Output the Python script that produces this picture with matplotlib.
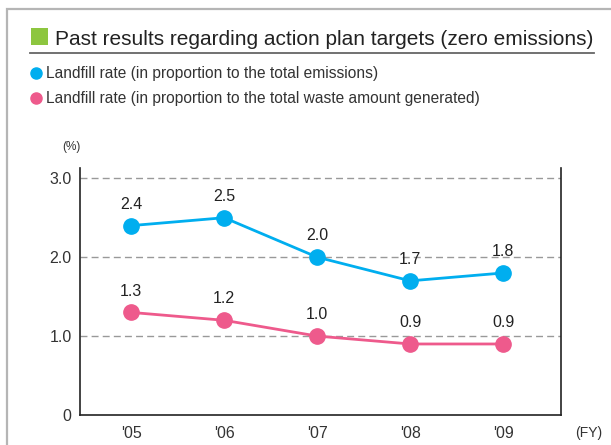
import matplotlib.pyplot as plt
from matplotlib.patches import Rectangle
from matplotlib.lines import Line2D

years = ["'05", "'06", "'07", "'08", "'09"]
emissions_rate = [2.4, 2.5, 2.0, 1.7, 1.8]
waste_rate = [1.3, 1.2, 1.0, 0.9, 0.9]
yticks = [0, 1.0, 2.0, 3.0]
ytick_labels = ["0", "1.0", "2.0", "3.0"]

blue = "#00aeef"
pink = "#ee5a8c"
W, H = 611, 445

plt.rcParams['font.family'] = ['Liberation Sans', 'DejaVu Sans']

fig = plt.figure(figsize=(W / 100, H / 100), dpi=100)


def fx(px):
    return px / W


def fy(py):
    return 1 - py / H


# outer frame
fig.add_artist(Rectangle((fx(7), fy(470)), fx(700), fy(9) - fy(470),
                         fill=False, ec="#b5b5b5", lw=1.6,
                         transform=fig.transFigure))

# title block
fig.add_artist(Rectangle((fx(31), fy(45)), fx(17), fy(28) - fy(45),
                         fc="#8dc63f", ec="none", transform=fig.transFigure))
title = fig.text(fx(55), fy(45), "Past results regarding action plan targets (zero emissions)",
                 fontsize=18, color="#222222", va="baseline", ha="left")
# shrink the title so it fits between the square and the frame edge
renderer = fig.canvas.get_renderer()
tw = title.get_window_extent(renderer).width
title.set_fontsize(18 * 538 / tw)
fig.add_artist(Line2D([fx(30), fx(594)], [fy(53), fy(53)], color="#666666",
                      lw=1.3, transform=fig.transFigure))

# legend
for py, col, txt in [(73, blue, "Landfill rate (in proportion to the total emissions)"),
                     (98, pink, "Landfill rate (in proportion to the total waste amount generated)")]:
    fig.add_artist(Line2D([fx(36)], [fy(py)], marker="o", ms=8, color=col,
                          transform=fig.transFigure))
    fig.text(fx(46), fy(py + 5), txt, fontsize=11.2, color="#333333", va="baseline")

ax = fig.add_axes([fx(80), fy(415), fx(561) - fx(80), fy(168) - fy(415)])
x = range(len(years))
ax.plot(x, emissions_rate, "-o", color=blue, lw=2, ms=11, zorder=3)
ax.plot(x, waste_rate, "-o", color=pink, lw=2, ms=11, zorder=3)
for xi, v in zip(x, emissions_rate):
    ax.annotate(f"{v:.1f}", (xi, v), xytext=(0, 10), textcoords="offset points",
                ha="center", va="bottom", fontsize=11.5, color="#222222")
for xi, v in zip(x, waste_rate):
    ax.annotate(f"{v:.1f}", (xi, v), xytext=(0, 10), textcoords="offset points",
                ha="center", va="bottom", fontsize=11.5, color="#222222")

ax.set_xlim(-0.55, 4.62)
ax.set_ylim(0, 3.13)
ax.set_yticks(yticks)
ax.set_yticklabels(ytick_labels)
ax.set_xticks(list(x))
ax.set_xticklabels(years)
ax.tick_params(length=0, labelsize=11.5, labelcolor="#333333")
ax.tick_params(axis="y", pad=6)
ax.tick_params(axis="x", pad=8)
for v in [1.0, 2.0, 3.0]:
    ax.axhline(v, color="#999999", lw=1, ls=(0, (5, 3)), zorder=1)
ax.spines["top"].set_visible(False)
for s in ["left", "right", "bottom"]:
    ax.spines[s].set_color("#222222")
    ax.spines[s].set_linewidth(1.2)

fig.text(fx(62), fy(147), "(%)", fontsize=8.5, color="#333333", va="center")
fig.text(fx(575), fy(433), "(FY)", fontsize=10, color="#333333", va="center")

fig.savefig("out.png", dpi=100)
